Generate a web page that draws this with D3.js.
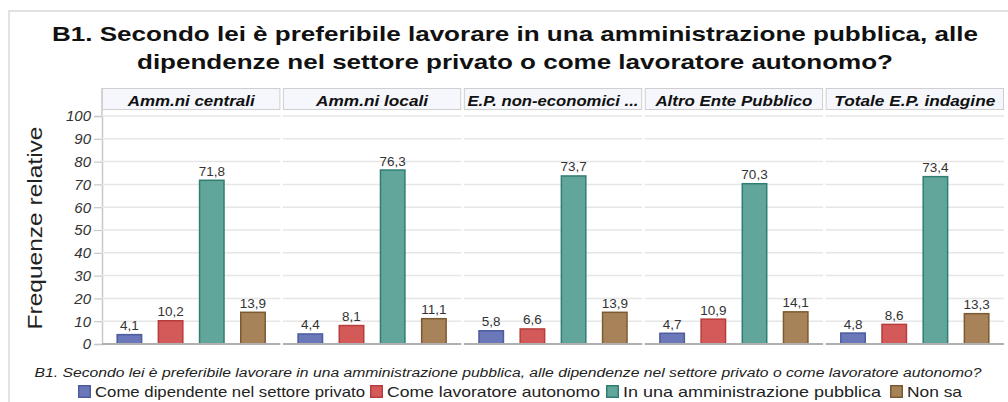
<!DOCTYPE html>
<html><head><meta charset="utf-8">
<script src="https://cdn.jsdelivr.net/npm/d3@7"></script>
<style>body{margin:0;background:#fff}svg{display:block}text{font-family:"Liberation Sans",Arial,sans-serif}</style>
</head><body><div id="chart"></div>
<script>
const categories = ["Amm.ni centrali","Amm.ni locali","E.P. non-economici ...","Altro Ente Pubblico","Totale E.P. indagine"];
const seriesNames = ["Come dipendente nel settore privato","Come lavoratore autonomo","In una amministrazione pubblica","Non sa"];
const privato = [4.1,4.4,5.8,4.7,4.8];
const autonomo = [10.2,8.1,6.6,10.9,8.6];
const pubblica = [71.8,76.3,73.7,70.3,73.4];
const nonSa = [13.9,11.1,13.9,14.1,13.3];
const yTicks = [0,10,20,30,40,50,60,70,80,90,100];
const fills = ["#6a78b9","#d45a5a","#62a69b","#a8835a"];
const strokes = ["#4d5c9e","#b83c3c","#2f7e72","#7c5a31"];

const seriesVals = [privato, autonomo, pubblica, nonSa];
const headerTextW = [127,112,171,157,161];
const W=1008,H=402;
const svg=d3.select("#chart").append("svg").attr("width",W).attr("height",H);

// outer frame
svg.append("path").attr("d","M9,402V11H1020").attr("fill","none").attr("stroke","#d9d9d9").attr("stroke-width",1.5);

// title
const t1="B1. Secondo lei è preferibile lavorare in una amministrazione pubblica, alle";
const t2="dipendenze nel settore privato o come lavoratore autonomo?";
svg.append("text").attr("x",515).attr("y",41).attr("text-anchor","middle").attr("font-size",21).attr("font-weight","bold").attr("fill","#111")
  .attr("textLength",926).attr("lengthAdjust","spacingAndGlyphs").text(t1);
svg.append("text").attr("x",515).attr("y",69).attr("text-anchor","middle").attr("font-size",21).attr("font-weight","bold").attr("fill","#111")
  .attr("textLength",756).attr("lengthAdjust","spacingAndGlyphs").text(t2);

const plotLeft=102, plotRight=1004, plotTop=116, plotBottom=344;
const y=d3.scaleLinear().domain([0,100]).range([plotBottom,plotTop]);
const panel=d3.scaleBand().domain(categories).range([plotLeft,plotRight]).paddingInner(0.014).paddingOuter(0);
const x=d3.scaleBand().domain(seriesNames).range([0,panel.bandwidth()]).paddingInner(0.37).paddingOuter(0.35);

// y axis
const yAxis=svg.append("g").attr("transform",`translate(${plotLeft},0)`)
  .call(d3.axisLeft(y).tickValues(yTicks).tickSize(8).tickPadding(3));
yAxis.select(".domain").attr("stroke","#c8c8c8").attr("stroke-width",1.5);
yAxis.selectAll(".tick line").attr("stroke","#c8c8c8").attr("stroke-width",1.2);
yAxis.selectAll(".tick text").attr("font-size",15).attr("font-style","italic").attr("fill","#333")
  .attr("font-family","'Liberation Sans',Arial,sans-serif");
svg.append("line").attr("x1",plotLeft).attr("x2",plotLeft).attr("y1",88).attr("y2",plotTop).attr("stroke","#c8c8c8").attr("stroke-width",1.5);

// y label
svg.append("text").attr("transform",`translate(42,228) rotate(-90)`).attr("text-anchor","middle")
  .attr("font-size",20).attr("fill","#222").attr("textLength",203).attr("lengthAdjust","spacingAndGlyphs").text("Frequenze relative");

categories.forEach((cat,ci)=>{
  const px=panel(cat), pw=panel.bandwidth();
  const g=svg.append("g").attr("transform",`translate(${px},0)`);
  // header
  g.append("rect").attr("x",0.5).attr("y",88.5).attr("width",pw-1).attr("height",21).attr("fill","#f5f7fc").attr("stroke","#cfcfcf");
  g.append("text").attr("x",pw/2).attr("y",105.5).attr("text-anchor","middle").attr("font-size",15).attr("font-weight","bold").attr("font-style","italic").attr("fill","#111")
    .attr("textLength",headerTextW[ci]).attr("lengthAdjust","spacingAndGlyphs").text(cat);
  // grid
  g.selectAll("line.grid").data(yTicks.slice(1)).join("line").attr("class","grid")
    .attr("x1",0).attr("x2",pw).attr("y1",d=>y(d)).attr("y2",d=>y(d)).attr("stroke","#e6e6e6").attr("stroke-width",1.5);
  // bars
  seriesNames.forEach((s,si)=>{
    const v=seriesVals[si][ci];
    g.append("rect").attr("x",x(s)+0.75).attr("y",y(v)).attr("width",x.bandwidth()-1.5).attr("height",y(0)-y(v))
      .attr("fill",fills[si]).attr("stroke",strokes[si]).attr("stroke-width",1.5);
    g.append("text").attr("x",x(s)+x.bandwidth()/2).attr("y",y(v)-4.5).attr("text-anchor","middle").attr("font-size",13.5).attr("fill","#333")
      .text(String(v).replace(".",","));
  });
  // baseline
  g.append("line").attr("x1",0).attr("x2",pw).attr("y1",y(0)).attr("y2",y(0)).attr("stroke","#b0b0b0").attr("stroke-width",2);
});

// footer
svg.append("text").attr("x",508).attr("y",377).attr("text-anchor","middle").attr("font-size",12.5).attr("font-style","italic").attr("fill","#222")
  .attr("textLength",947).attr("lengthAdjust","spacingAndGlyphs")
  .text("B1. Secondo lei è preferibile lavorare in una amministrazione pubblica, alle dipendenze nel settore privato o come lavoratore autonomo?");

const legX=[78,370,606,890], legTextW=[270,213,258,55];
seriesNames.forEach((s,i)=>{
  svg.append("rect").attr("x",legX[i]+0.75).attr("y",385.75).attr("width",11.5).attr("height",11.5).attr("fill",fills[i]).attr("stroke",strokes[i]).attr("stroke-width",1.5);
  svg.append("text").attr("x",legX[i]+17).attr("y",397).attr("font-size",15).attr("fill","#222")
    .attr("textLength",legTextW[i]).attr("lengthAdjust","spacingAndGlyphs").text(s);
});
</script></body></html>
